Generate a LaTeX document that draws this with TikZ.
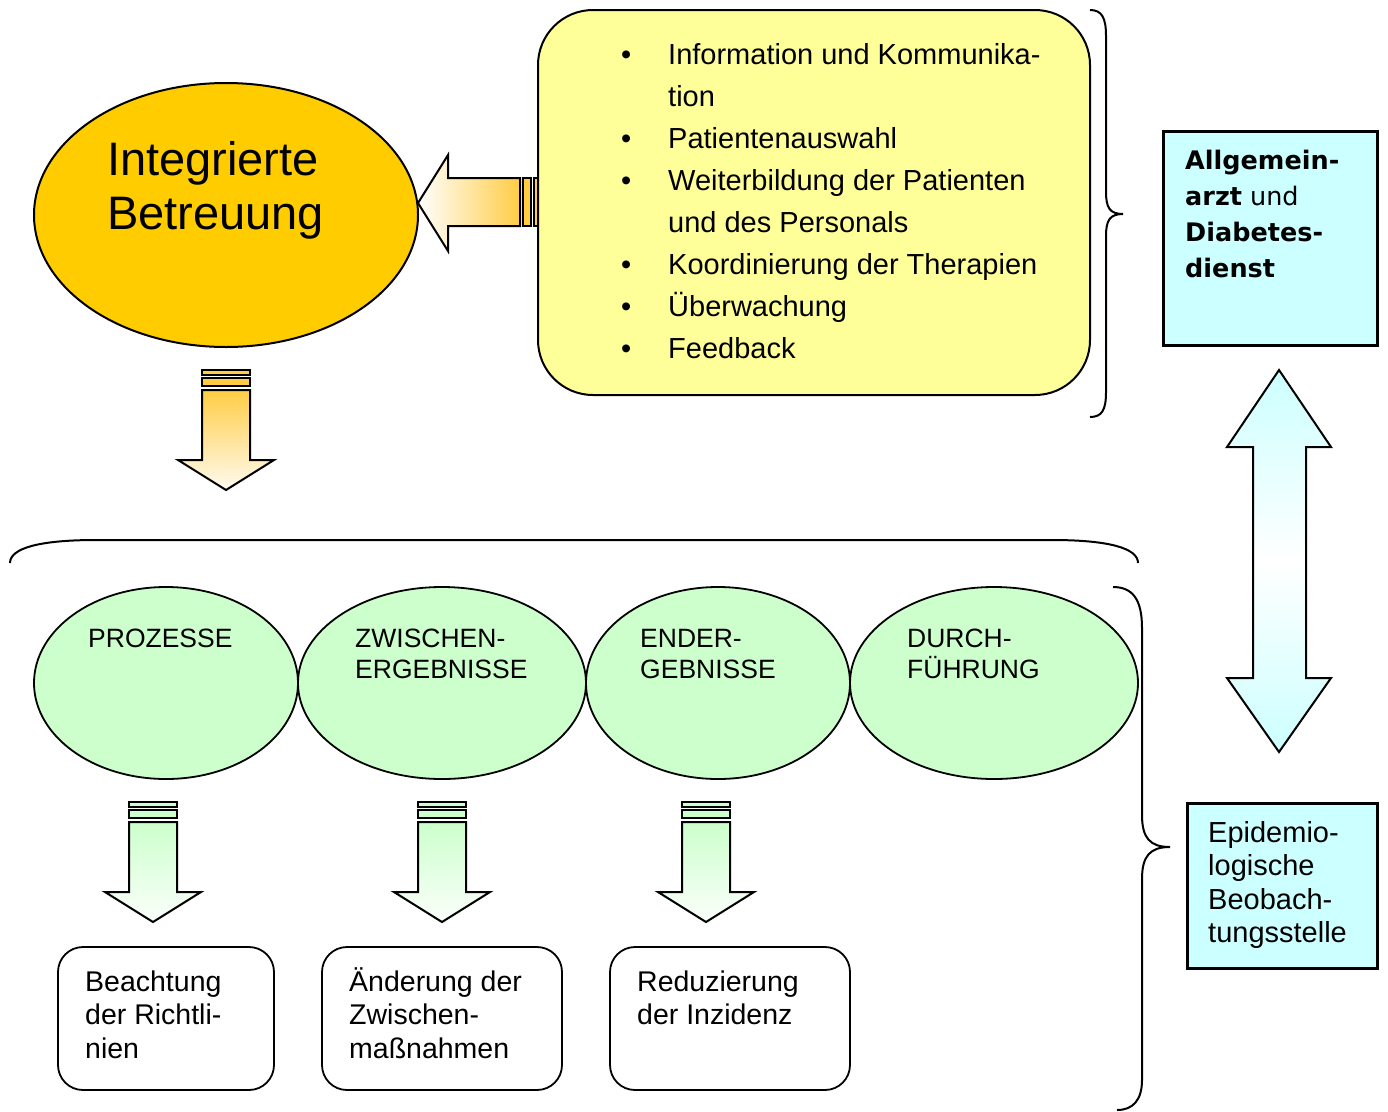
\documentclass[tikz,border=0pt]{standalone}
\usepackage{fontspec}
\setmainfont{Liberation Sans}
\newfontfamily\boxfont{DejaVu Sans}
\usetikzlibrary{shapes.geometric}

\definecolor{gold}{HTML}{FFCC00}
\definecolor{arrowgold}{HTML}{FFCC44}
\definecolor{paleyellow}{HTML}{FFFF99}
\definecolor{palegreen}{HTML}{CCFFCC}
\definecolor{palecyan}{HTML}{CCFFFF}

% left-aligned multi-line text whose baseline is the first line
\newcommand\textlines[1]{\begin{tabular}[t]{@{}l@{}}#1\end{tabular}}

% striped block arrow pointing down: x centre, top y, colour
\newcommand\blockdown[3]{%
  \draw[blockline, fill=#3] (#1-24,#2) rectangle (#1+24,#2+5);
  \draw[blockline, fill=#3] (#1-24,#2+8) rectangle (#1+24,#2+16);
  \draw[blockline, top color=#3, bottom color=white!92!#3]
    (#1-24,#2+20) -- (#1+24,#2+20) -- (#1+24,#2+90) -- (#1+48,#2+90)
    -- (#1,#2+120) -- (#1-48,#2+90) -- (#1-24,#2+90) -- cycle;}

\begin{document}
\begin{tikzpicture}[x=1pt,y=-1pt,
  blockline/.style={draw=black, line width=2pt, line join=miter},
  bracket/.style={draw=black, line width=2pt},
  phase/.style={draw=black, ellipse, fill=palegreen, line width=1.8pt,
    minimum height=192pt, inner sep=0pt},
  phasetext/.style={anchor=base west, inner sep=0pt,
    font=\fontsize{26.5}{31}\selectfont},
  resultbox/.style={draw=black, rounded corners=25pt, fill=white,
    line width=1.8pt, minimum height=143pt, inner sep=0pt},
  resulttext/.style={anchor=base west, inner sep=0pt,
    font=\fontsize{28.5}{33.5}\selectfont},
  cyanbox/.style={draw=black, fill=palecyan, line width=3.5pt, inner sep=0pt}]
\useasboundingbox (0,0) rectangle (1388,1111);

% integrated care
\node[draw=black, ellipse, fill=gold, line width=2pt, inner sep=0pt,
  minimum width=384pt, minimum height=264pt] (care) at (226,215) {};
\node[anchor=base west, inner sep=0pt, font=\fontsize{47}{54}\selectfont]
  (caretext) at (107,175) {\textlines{Integrierte\\Betreuung}};

% arrow from the task list towards the ellipse
\draw[blockline, left color=white, right color=arrowgold]
  (418,203) -- (448,155) -- (448,178) -- (520,178) -- (520,226)
  -- (448,226) -- (448,251) -- cycle;
\draw[blockline, fill=arrowgold] (523,178) rectangle (531,226);
\draw[blockline, fill=arrowgold] (534,178) rectangle (541,226);

% task list
\node[draw=black, rounded corners=55pt, fill=paleyellow, line width=2pt,
  minimum width=552pt, minimum height=385pt, inner sep=0pt]
  (tasks) at (814,202.5) {};
\node[anchor=base west, inner sep=0pt, font=\fontsize{29}{42}\selectfont]
  (tasklist) at (621,64) {%
  \begin{tabular}[t]{@{}l@{}l@{}}
  \makebox[47pt][l]{•} & Information und Kommunika-\\
   & tion\\
  \makebox[47pt][l]{•} & Patientenauswahl\\
  \makebox[47pt][l]{•} & Weiterbildung der Patienten\\
   & und des Personals\\
  \makebox[47pt][l]{•} & Koordinierung der Therapien\\
  \makebox[47pt][l]{•} & Überwachung\\
  \makebox[47pt][l]{•} & Feedback
  \end{tabular}};

% brace grouping the task list
\draw[bracket] (1090,10) .. controls (1102,10) and (1106,18) .. (1106,36)
  -- (1106,192) .. controls (1106,208) and (1110,214) .. (1123,214)
  .. controls (1110,214) and (1106,220) .. (1106,236)
  -- (1106,392) .. controls (1106,410) and (1102,417) .. (1090,417);

% general practitioner and diabetes service
\node[cyanbox, minimum width=214pt, minimum height=214pt] (gp) at (1270.5,238.5) {};
\node[anchor=base west, inner sep=0pt, font=\boxfont\fontsize{25.5}{36}\selectfont]
  (gptext) at (1185,169)
  {\textlines{\textbf{Allgemein-}\\\textbf{arzt} und\\\textbf{Diabetes-}\\\textbf{dienst}}};

% arrow from the ellipse down to the phases
\blockdown{226}{370}{arrowgold}

% bracket over the phases
\draw[bracket] (10,563) .. controls (10,548) and (40,540) .. (96,540)
  -- (1052,540) .. controls (1108,540) and (1138,548) .. (1138,563);

% phases
\node[phase, minimum width=264pt] (proc) at (166,683) {};
\node[phase, minimum width=288pt] (inter) at (442,683) {};
\node[phase, minimum width=264pt] (final) at (718,683) {};
\node[phase, minimum width=288pt] (impl) at (994,683) {};
\node[phasetext] (proctext) at (88,647) {PROZESSE};
\node[phasetext] (intertext) at (355,647) {\textlines{ZWISCHEN-\\ERGEBNISSE}};
\node[phasetext] (finaltext) at (640,647) {\textlines{ENDER-\\GEBNISSE}};
\node[phasetext] (impltext) at (907,647) {\textlines{DURCH-\\FÜHRUNG}};

% arrows from the phases to the results
\blockdown{153}{802}{palegreen}
\blockdown{442}{802}{palegreen}
\blockdown{706}{802}{palegreen}

% results
\node[resultbox, minimum width=216pt] (r1) at (166,1018.5) {};
\node[resultbox, minimum width=240pt] (r2) at (442,1018.5) {};
\node[resultbox, minimum width=240pt] (r3) at (730,1018.5) {};
\node[resulttext] (r1text) at (85,991) {\textlines{Beachtung\\der Richtli-\\nien}};
\node[resulttext] (r2text) at (349,991) {\textlines{Änderung der\\Zwischen-\\maßnahmen}};
\node[resulttext] (r3text) at (637,991) {\textlines{Reduzierung\\der Inzidenz}};

% brace grouping phases and results
\draw[bracket] (1113,587) .. controls (1133,587) and (1142,600) .. (1142,628)
  -- (1142,815) .. controls (1142,838) and (1150,847) .. (1170,847)
  .. controls (1150,847) and (1142,856) .. (1142,879)
  -- (1142,1080) .. controls (1142,1100) and (1133,1110) .. (1117,1110);

% epidemiological observatory
\node[cyanbox, minimum width=190pt, minimum height=165pt] (epi) at (1282.5,886) {};
\node[anchor=base west, inner sep=0pt, font=\fontsize{29}{33.5}\selectfont]
  (epitext) at (1208,842)
  {\textlines{Epidemio-\\logische\\Beobach-\\tungsstelle}};

% two-way arrow between the two bodies
\draw[blockline, top color=palecyan, bottom color=palecyan, middle color=white]
  (1279,370) -- (1331,447) -- (1306,447) -- (1306,678) -- (1331,678)
  -- (1279,752) -- (1227,678) -- (1253,678) -- (1253,447) -- (1227,447) -- cycle;

\end{tikzpicture}
\end{document}
